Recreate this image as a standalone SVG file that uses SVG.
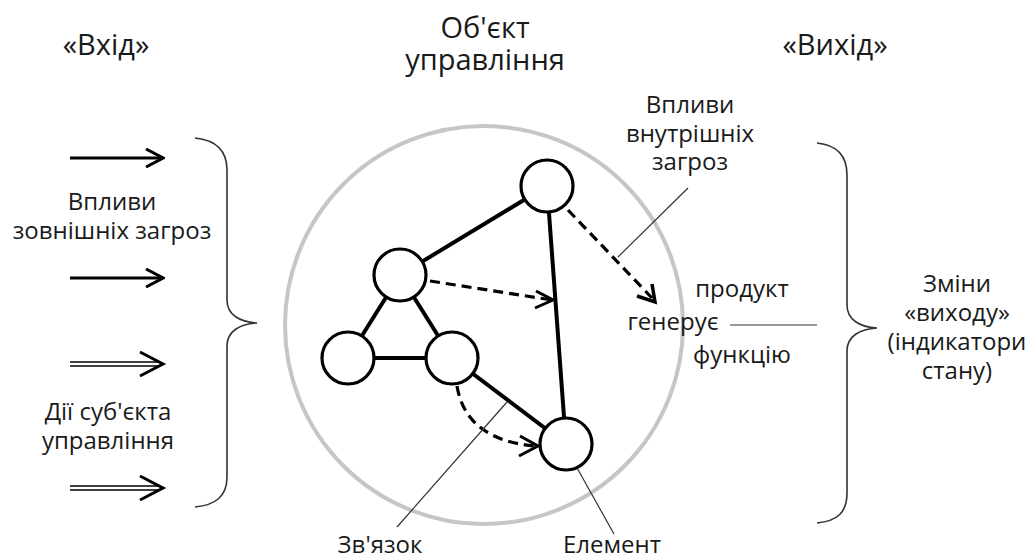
<svg xmlns="http://www.w3.org/2000/svg" width="1033" height="558" viewBox="0 0 1033 558">
<defs>
<style>
text{font-family:"Open Sans","Liberation Sans",sans-serif;font-size:24px;fill:#1a1a1a;text-anchor:middle}
.title{font-size:29px}
.edge{stroke:#000;stroke-width:4;fill:none;stroke-linecap:round}
.node{fill:#fff;stroke:#000;stroke-width:3.2}
.dash{stroke:#000;stroke-width:3.2;fill:none;stroke-dasharray:10 6}
.lead{stroke:#333;stroke-width:1.2;fill:none}
.brace{stroke:#333;stroke-width:1.6;fill:none}
.inarr{stroke:#000;stroke-width:3;fill:none}
.dbl{stroke:#000;stroke-width:1.6;fill:none}
</style>
<marker id="vhead" viewBox="0 0 20 20" refX="18" refY="10" markerWidth="20" markerHeight="20" markerUnits="userSpaceOnUse" orient="auto">
<path d="M1,1 L18,10 L1,19" fill="none" stroke="#000" stroke-width="3"/>
</marker>
</defs>
<rect width="1033" height="558" fill="#fff"/>

<g id="titles">
<text class="title" x="106" y="55">«Вхід»</text>
<text class="title" x="485" y="38">Об'єкт</text>
<text class="title" x="485" y="70">управління</text>
<text class="title" x="835" y="55">«Вихід»</text>
</g>

<g id="object-boundary">
<circle cx="484" cy="325" r="199" fill="none" stroke="#c6c6c6" stroke-width="4"/>
</g>

<g id="connectors">
<line class="edge" x1="400" y1="275" x2="547" y2="186"/>
<line class="edge" x1="547" y1="186" x2="566" y2="444"/>
<line class="edge" x1="400" y1="275" x2="348" y2="358"/>
<line class="edge" x1="400" y1="275" x2="452" y2="358"/>
<line class="edge" x1="348" y1="358" x2="452" y2="358"/>
<line class="edge" x1="452" y1="358" x2="566" y2="444"/>
<path class="dash" d="M430,281 L552,300"/>
<path d="M536,291 L553,300 L535,308" fill="none" stroke="#000" stroke-width="3"/>
<path class="dash" d="M568,210 L652,298"/>
<path d="M637,296 L655,302 L652,284" fill="none" stroke="#000" stroke-width="3.5"/>
<path class="dash" d="M457,386 Q466,440 535,446"/>
<path d="M520,436 L538,446 L519,456" fill="none" stroke="#000" stroke-width="3"/>
<line class="inarr" x1="70" y1="158" x2="163" y2="158" marker-end="url(#vhead)"/>
<line class="inarr" x1="70" y1="278" x2="163" y2="278" marker-end="url(#vhead)"/>
<line class="dbl" x1="70" y1="362" x2="160" y2="362"/>
<line class="dbl" x1="70" y1="366" x2="160" y2="366"/>
<path d="M140,352 L163,364 L140,376" fill="none" stroke="#000" stroke-width="3"/>
<line class="dbl" x1="70" y1="486" x2="160" y2="486"/>
<line class="dbl" x1="70" y1="490" x2="160" y2="490"/>
<path d="M140,476 L163,488 L140,500" fill="none" stroke="#000" stroke-width="3"/>
<line class="lead" x1="688" y1="188" x2="618" y2="257"/>
<line class="lead" x1="730" y1="325" x2="817" y2="325"/>
<line class="lead" x1="507" y1="402" x2="397" y2="527"/>
<line class="lead" x1="567" y1="450" x2="614" y2="534"/>
<path class="brace" d="M195,138 C215,140 227,150 227,170 L227,300 C227,315 240,322 257,323 C240,324 227,331 227,346 L227,477 C227,497 215,505 195,507"/>
<path class="brace" d="M817,143 C837,145 847,155 847,175 L847,305 C847,320 860,327 877,328 C860,329 847,336 847,351 L847,493 C847,513 837,521 817,523"/>
</g>

<g id="node-top"><circle class="node" cx="547" cy="186" r="26"/></g>
<g id="node-midleft"><circle class="node" cx="400" cy="275" r="26"/></g>
<g id="node-left"><circle class="node" cx="348" cy="358" r="26"/></g>
<g id="node-mid"><circle class="node" cx="452" cy="358" r="26"/></g>
<g id="node-bottom"><circle class="node" cx="566" cy="444" r="26"/></g>

<g id="labels">
<text x="112" y="210">Впливи</text>
<text x="112" y="239">зовнішніх загроз</text>
<text x="108" y="420">Дії суб'єкта</text>
<text x="108" y="449">управління</text>
<text x="690" y="113">Впливи</text>
<text x="690" y="142">внутрішніх</text>
<text x="690" y="170">загроз</text>
<text x="742" y="297">продукт</text>
<text x="673" y="330">генерує</text>
<text x="742" y="363">функцію</text>
<text x="957" y="292">Зміни</text>
<text x="957" y="321">«виходу»</text>
<text x="957" y="350">(індикатори</text>
<text x="957" y="379">стану)</text>
<text x="380" y="553">Зв'язок</text>
<text x="612" y="553">Елемент</text>
</g>
</svg>
